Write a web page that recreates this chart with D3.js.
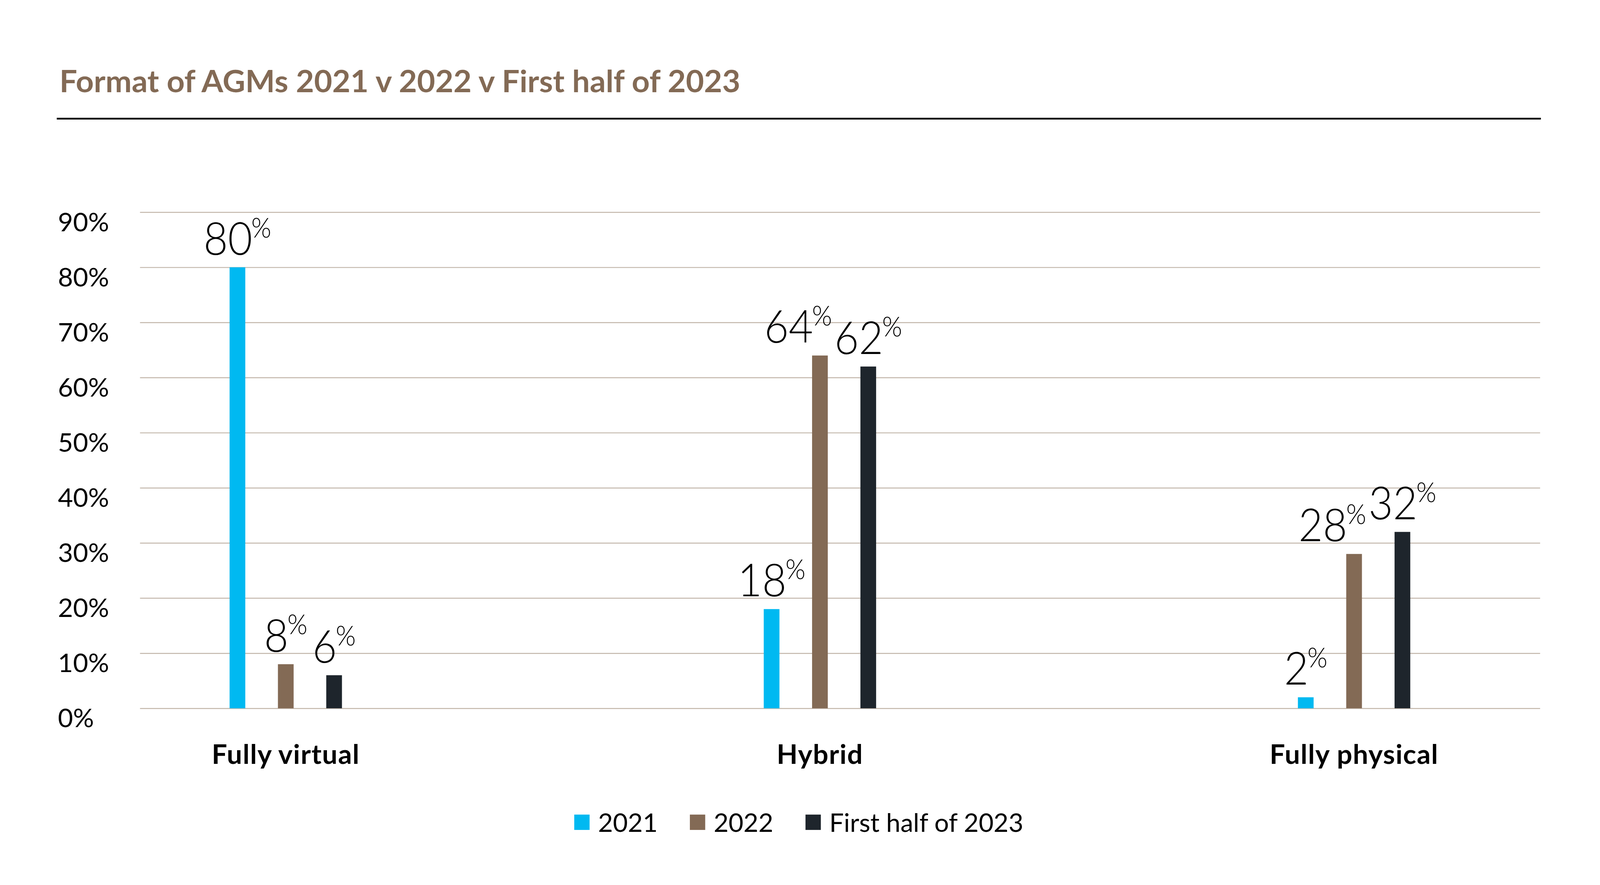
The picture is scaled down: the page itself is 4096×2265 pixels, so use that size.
<!DOCTYPE html>
<html>
<head>
<meta charset="utf-8">
<script src="https://cdn.jsdelivr.net/npm/d3@7"></script>
<style>
  html, body { margin: 0; padding: 0; background: #ffffff; }
  svg { display: block; }
  text { font-family: Lato, "Noto Sans", sans-serif; }
</style>
</head>
<body>
<svg id="chart" width="4096" height="2265"></svg>
<script>
// ---------- data ----------
const title = "Format of AGMs 2021 v 2022 v First half of 2023";
const categories = ["Fully virtual", "Hybrid", "Fully physical"];
const seriesNames = ["2021", "2022", "First half of 2023"];
const values2021 = [80, 18, 2];
const values2022 = [8, 64, 28];
const valuesH1_2023 = [6, 62, 32];
const yTicks = [0, 10, 20, 30, 40, 50, 60, 70, 80, 90];
const seriesColors = ["#00B9F1", "#836A55", "#1E252C"];

// ---------- layout (reference pixels, scaled by 0.982) ----------
const S = 0.982;
const plotLeft = 365, plotRight = 4015, plotTop = 553, plotBottom = 1846;
const tickLabelX = 151;
const groupFirst = 745, groupLast = 3530;

const series = seriesNames.map((name, i) => ({
  name, color: seriesColors[i],
  values: [values2021, values2022, valuesH1_2023][i]
}));

const svg = d3.select("#chart");
const root = svg.append("g").attr("transform", `scale(${S})`);

// title
const titleText = root.append("text")
  .attr("x", 155).attr("y", 240)
  .attr("font-size", 80).attr("font-weight", 700)
  .attr("fill", "#836A55")
  .text(title);
const tw = titleText.node().getComputedTextLength();
if (Math.abs(tw - 1775) > 20) titleText.attr("textLength", 1775).attr("lengthAdjust", "spacingAndGlyphs");

// rule under title
root.append("rect")
  .attr("x", 148).attr("y", 307).attr("width", 4017 - 148).attr("height", 4.5)
  .attr("fill", "#000000");

// scales
const y = d3.scaleLinear().domain([0, 90]).range([plotBottom, plotTop]);
const x0 = d3.scalePoint().domain(categories).range([groupFirst, groupLast]);
const x1 = d3.scaleBand().domain(seriesNames).range([-189, 189])
  .paddingInner(0.675).paddingOuter(0.3375);

// gridlines + tick labels via axis
const yAxis = root.append("g")
  .attr("transform", `translate(${plotLeft},0)`)
  .call(d3.axisLeft(y).tickValues(yTicks).tickSize(-(plotRight - plotLeft)).tickFormat(d => d + "%"));
yAxis.select(".domain").remove();
yAxis.selectAll(".tick line").attr("stroke", "#C2B6AA").attr("stroke-width", 2.5);
yAxis.selectAll(".tick text")
  .attr("x", tickLabelX - plotLeft).attr("dy", "0.72em")
  .attr("text-anchor", "start")
  .attr("font-family", "Lato, 'Noto Sans', sans-serif")
  .attr("font-size", 68).attr("font-weight", 400).attr("fill", "#000000");

// bars
const groups = root.append("g").selectAll("g.group")
  .data(categories.map((c, ci) => ({ c, ci })))
  .join("g").attr("class", "group")
  .attr("transform", d => `translate(${x0(d.c)},0)`);

groups.selectAll("rect")
  .data(d => series.map(s => ({ s, v: s.values[d.ci] })))
  .join("rect")
  .attr("x", d => x1(d.s.name))
  .attr("width", x1.bandwidth())
  .attr("y", d => y(d.v))
  .attr("height", d => y(0) - y(d.v))
  .attr("fill", d => d.s.color);

// value labels
const labelGap = 33;
const labelScaleX = 0.93;
groups.each(function (g) {
  const grp = d3.select(this);
  const labels = series.map(s => {
    const v = s.values[g.ci];
    const cx = x1(s.name) + x1.bandwidth() / 2;
    const by = y(v) - labelGap;
    const t = grp.append("text")
      .attr("text-anchor", "middle")
      .attr("font-weight", 300)
      .attr("fill", "#000000")
      .attr("transform", `translate(${cx},${by}) scale(${labelScaleX},1)`);
    t.append("tspan").attr("font-size", 118).text(v);
    t.append("tspan").attr("font-size", 72).attr("dx", -3).attr("dy", -45).text("%");
    return { t, cx, by };
  });
  // nudge a label left if it collides with the next one
  for (let i = labels.length - 2; i >= 0; i--) {
    const a = labels[i].t.node().getBBox(), b = labels[i + 1].t.node().getBBox();
    const aR = labels[i].cx + (a.x + a.width) * labelScaleX;
    const bL = labels[i + 1].cx + b.x * labelScaleX;
    const aTop = labels[i].by + a.y, aBot = labels[i].by + a.y + a.height;
    const bTop = labels[i + 1].by + b.y, bBot = labels[i + 1].by + b.y + b.height;
    const vOverlap = aTop < bBot && bTop < aBot;
    if (vOverlap && aR > bL - 6) {
      labels[i].cx -= (aR - bL + 6);
      labels[i].t.attr("transform", `translate(${labels[i].cx},${labels[i].by}) scale(${labelScaleX},1)`);
    }
  }
});

// category labels
root.append("g").selectAll("text")
  .data(categories)
  .join("text")
  .attr("x", d => x0(d))
  .attr("y", 1991)
  .attr("text-anchor", "middle")
  .attr("font-size", 71).attr("font-weight", 700).attr("fill", "#000000")
  .attr("letter-spacing", 1.5)
  .text(d => d);

// legend
const legend = root.append("g");
const items = legend.selectAll("g.item").data(series).join("g").attr("class", "item");
items.append("rect").attr("x", 0).attr("y", 2123).attr("width", 40).attr("height", 40)
  .attr("fill", d => d.color);
items.append("text").attr("x", 62).attr("y", 2168)
  .attr("font-size", 67).attr("font-weight", 400).attr("fill", "#000000")
  .text(d => d.name);
let cursor = 0;
const offsets = [];
items.each(function () {
  offsets.push(cursor);
  const w = d3.select(this).select("text").node().getComputedTextLength();
  cursor += 62 + w + 84;
});
const legendWidth = cursor - 84;
const legendStart = (148 + 4017) / 2 - legendWidth / 2;
items.attr("transform", (d, i) => `translate(${legendStart + offsets[i]},0)`);
</script>
</body>
</html>
